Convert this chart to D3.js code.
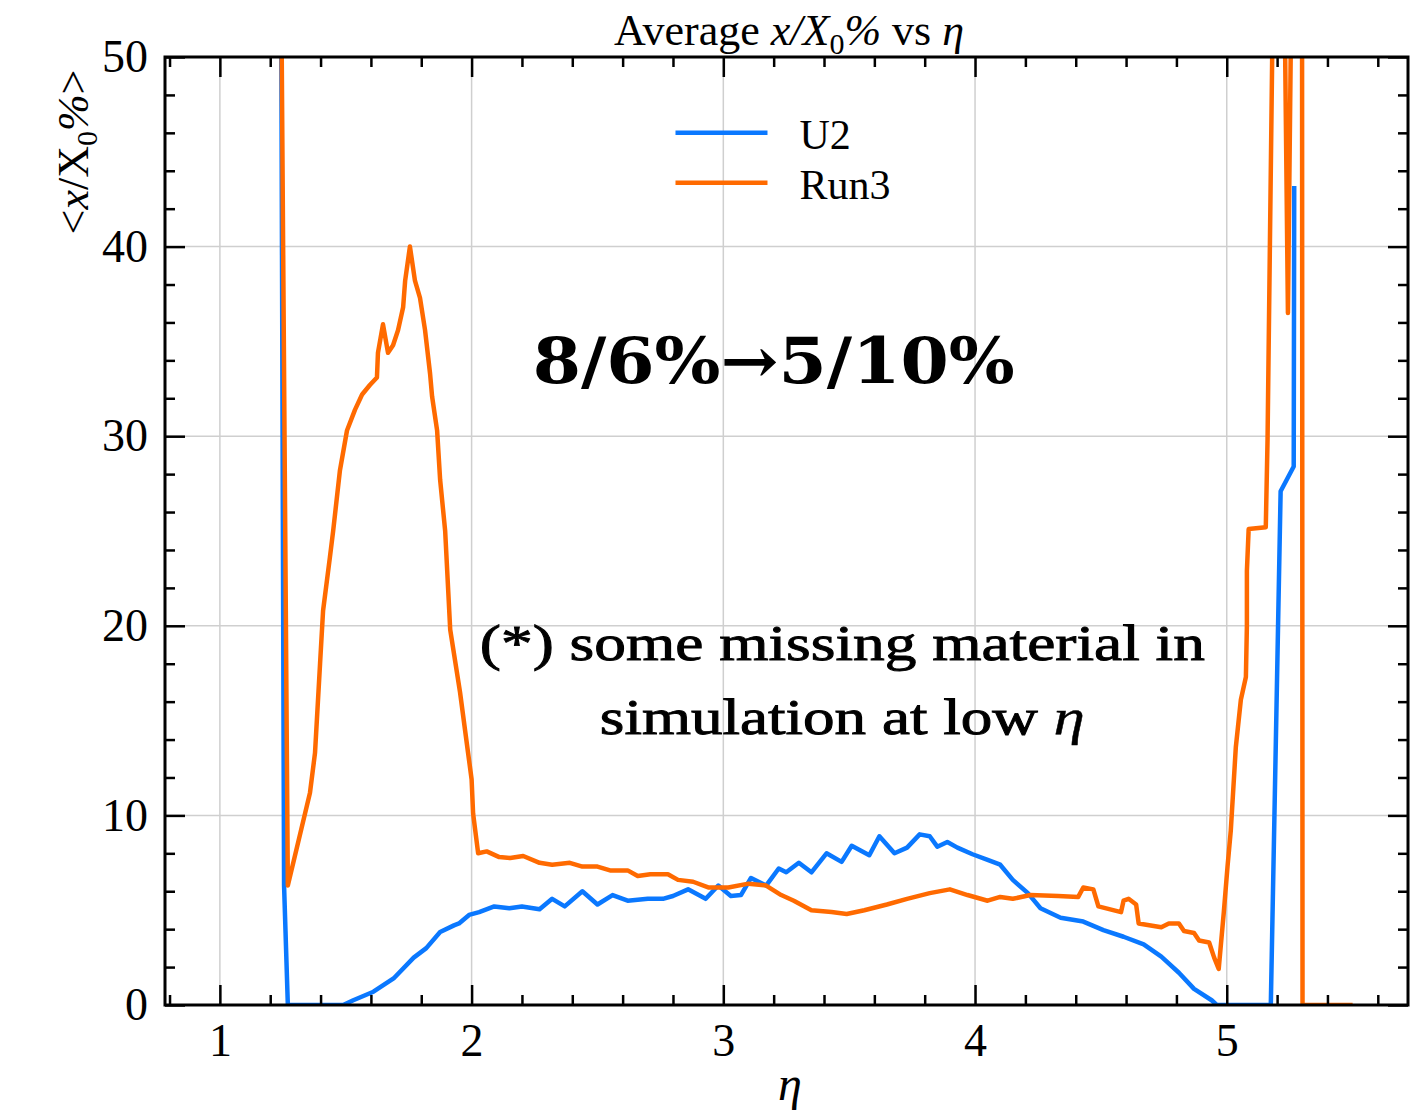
<!DOCTYPE html>
<html>
<head>
<meta charset="utf-8">
<script src="https://cdn.jsdelivr.net/npm/d3@7"></script>
<style>
  body { margin: 0; background: #fff; }
  text { font-family: "Liberation Serif", "Times New Roman", serif; }
</style>
</head>
<body>
<svg id="drawing_region"></svg>
<script>
// series names and tick values
const seriesNames = ['U2', 'Run3'];
const xTicks = [1, 2, 3, 4, 5];
const yTicks = [0, 10, 20, 30, 40, 50];

// U2 : [eta, <x/X0%>]
const u2Points = [
  [1.243, 55], [1.255, 6.3], [1.270, 0], [1.49, 0], [1.53, 0.25], [1.61, 0.7],
  [1.69, 1.4], [1.77, 2.5], [1.82, 3.0], [1.875, 3.85], [1.93, 4.2], [1.95, 4.3],
  [1.99, 4.75], [2.03, 4.9], [2.09, 5.2], [2.15, 5.1], [2.20, 5.2], [2.27, 5.05],
  [2.32, 5.6], [2.37, 5.2], [2.44, 6.0], [2.50, 5.3], [2.56, 5.8], [2.62, 5.5],
  [2.70, 5.6], [2.76, 5.6], [2.80, 5.75], [2.86, 6.1], [2.93, 5.6], [2.98, 6.3],
  [3.03, 5.75], [3.07, 5.8], [3.11, 6.7], [3.17, 6.3], [3.22, 7.2], [3.25, 7.0],
  [3.30, 7.5], [3.35, 7.0], [3.41, 8.0], [3.47, 7.55], [3.51, 8.4], [3.58, 7.9],
  [3.62, 8.9], [3.68, 8.0], [3.73, 8.3], [3.78, 9.0], [3.82, 8.9], [3.85, 8.35],
  [3.89, 8.6], [3.93, 8.3], [3.99, 7.95], [4.05, 7.65], [4.10, 7.4], [4.15, 6.6],
  [4.21, 5.9], [4.26, 5.1], [4.34, 4.6], [4.43, 4.4], [4.51, 3.95], [4.59, 3.6],
  [4.67, 3.2], [4.74, 2.55], [4.81, 1.7], [4.87, 0.85], [4.94, 0.25], [4.96, 0],
  [5.175, 0], [5.214, 27.1], [5.266, 28.4], [5.268, 43.2]
];

// Run3 : [eta, <x/X0%>]
const run3Points = [
  [1.243, 55], [1.270, 6.3], [1.358, 11.2], [1.378, 13.3], [1.398, 18.0], [1.41, 20.8],
  [1.437, 23.6], [1.45, 25.0], [1.477, 28.2], [1.505, 30.3], [1.537, 31.4], [1.565, 32.2],
  [1.596, 32.7], [1.624, 33.1], [1.628, 34.4], [1.648, 35.9], [1.668, 34.4], [1.688, 34.8],
  [1.708, 35.6], [1.728, 36.8], [1.736, 38.2], [1.755, 40.0], [1.775, 38.2], [1.795, 37.3],
  [1.815, 35.6], [1.835, 33.3], [1.843, 32.1], [1.863, 30.3], [1.875, 27.7], [1.895, 25.0],
  [1.915, 19.8], [1.954, 16.5], [1.986, 13.3], [2.0, 11.9], [2.006, 10.1], [2.026, 8.0],
  [2.06, 8.1], [2.11, 7.8], [2.153, 7.75], [2.205, 7.86], [2.27, 7.5], [2.32, 7.4],
  [2.39, 7.5], [2.44, 7.3], [2.50, 7.3], [2.55, 7.1], [2.62, 7.1], [2.66, 6.8],
  [2.71, 6.9], [2.78, 6.9], [2.82, 6.6], [2.88, 6.5], [2.94, 6.2], [3.02, 6.2],
  [3.10, 6.4], [3.17, 6.3], [3.23, 5.8], [3.28, 5.5], [3.35, 5.0], [3.43, 4.9],
  [3.49, 4.8], [3.56, 5.0], [3.65, 5.3], [3.73, 5.6], [3.82, 5.9], [3.90, 6.1],
  [3.97, 5.8], [4.05, 5.5], [4.10, 5.7], [4.15, 5.6], [4.22, 5.8], [4.33, 5.75],
  [4.41, 5.7], [4.43, 6.2], [4.47, 6.1], [4.49, 5.2], [4.58, 4.9], [4.59, 5.5],
  [4.61, 5.6], [4.64, 5.3], [4.65, 4.3], [4.74, 4.1], [4.77, 4.3], [4.81, 4.3],
  [4.83, 3.9], [4.87, 3.8], [4.89, 3.4], [4.93, 3.3], [4.95, 2.5], [4.968, 1.9],
  [4.988, 4.85], [5.003, 7.3], [5.016, 9.2], [5.036, 13.6], [5.056, 16.1], [5.076, 17.3],
  [5.080, 20.0], [5.080, 22.9], [5.087, 25.1], [5.155, 25.2], [5.162, 29.8], [5.185, 55],
  [5.228, 55], [5.243, 36.5], [5.258, 55], [5.299, 55], [5.301, 0], [5.50, 0]
];

const colors = ['#0a78ff', '#ff6a00'];

class MaterialChart {
    constructor(config) {
        this.config = config;
        this.init();
    }

    init() {
        let self = this;
        const c = self.config;

        self.svg = d3.select(c.parent)
            .attr('width', c.width)
            .attr('height', c.height);

        self.inner_width = c.width - c.margin.left - c.margin.right;
        self.inner_height = c.height - c.margin.top - c.margin.bottom;

        self.chart = self.svg.append('g')
            .attr('transform', `translate(${c.margin.left}, ${c.margin.top})`);

        self.xscale = d3.scaleLinear().domain([0.782, 5.72]).range([0, self.inner_width]);
        self.yscale = d3.scaleLinear().domain([0, 50]).range([self.inner_height, 0]);

        self.chart.append('clipPath').attr('id', 'plotclip')
            .append('rect')
            .attr('width', self.inner_width)
            .attr('height', self.inner_height);
    }

    render() {
        let self = this;
        const W = self.inner_width, H = self.inner_height;
        const xMinor = d3.range(0.8, 5.72, 0.2).filter(v => Math.abs(v - Math.round(v)) > 1e-6);
        const yMinor = d3.range(0, 50.01, 2).filter(v => v % 10 !== 0);

        // grid
        const grid = self.chart.append('g');
        grid.selectAll('.gx').data(xTicks).join('line')
            .attr('x1', d => self.xscale(d)).attr('x2', d => self.xscale(d))
            .attr('y1', 0).attr('y2', H)
            .attr('stroke', '#cfcfcf').attr('stroke-width', 1.5);
        grid.selectAll('.gy').data(yTicks.filter(d => d > 0 && d < 50)).join('line')
            .attr('y1', d => self.yscale(d)).attr('y2', d => self.yscale(d))
            .attr('x1', 0).attr('x2', W)
            .attr('stroke', '#cfcfcf').attr('stroke-width', 1.5);

        // curves
        const line = d3.line()
            .x(d => self.xscale(d[0]))
            .y(d => self.yscale(d[1]));

        const curves = self.chart.append('g').attr('clip-path', 'url(#plotclip)');
        [u2Points, run3Points].forEach((pts, i) => {
            curves.append('path')
                .attr('d', line(pts))
                .attr('fill', 'none')
                .attr('stroke', colors[i])
                .attr('stroke-width', 4.5)
                .attr('stroke-linejoin', 'round');
        });

        // axes with inward ticks
        const axisStyle = g => {
            g.select('.domain').remove();
            g.selectAll('line').attr('stroke', '#000').attr('stroke-width', 2.5);
            g.selectAll('text').style('font-family', '"Liberation Serif", serif')
                .style('font-size', '46px').attr('fill', '#000');
        };

        self.chart.append('g').attr('transform', `translate(0,${H})`)
            .call(d3.axisBottom(self.xscale).tickValues(xTicks).tickSize(-20).tickPadding(18).tickFormat(d3.format('d')))
            .call(axisStyle);
        self.chart.append('g').attr('transform', `translate(0,${H})`)
            .call(d3.axisBottom(self.xscale).tickValues(xMinor).tickSize(-10).tickFormat(''))
            .call(axisStyle);
        self.chart.append('g')
            .call(d3.axisTop(self.xscale).tickValues(xTicks).tickSize(-20).tickFormat(''))
            .call(axisStyle);
        self.chart.append('g')
            .call(d3.axisTop(self.xscale).tickValues(xMinor).tickSize(-10).tickFormat(''))
            .call(axisStyle);

        self.chart.append('g')
            .call(d3.axisLeft(self.yscale).tickValues(yTicks).tickSize(-20).tickPadding(17).tickFormat(d3.format('d')))
            .call(axisStyle);
        self.chart.append('g')
            .call(d3.axisLeft(self.yscale).tickValues(yMinor).tickSize(-10).tickFormat(''))
            .call(axisStyle);
        self.chart.append('g').attr('transform', `translate(${W},0)`)
            .call(d3.axisRight(self.yscale).tickValues(yTicks).tickSize(-20).tickFormat(''))
            .call(axisStyle);
        self.chart.append('g').attr('transform', `translate(${W},0)`)
            .call(d3.axisRight(self.yscale).tickValues(yMinor).tickSize(-10).tickFormat(''))
            .call(axisStyle);

        // frame
        self.chart.append('rect')
            .attr('width', W).attr('height', H)
            .attr('fill', 'none').attr('stroke', '#000').attr('stroke-width', 3);

        // legend
        const legend = self.chart.append('g').attr('transform', `translate(${self.xscale(2.81)}, ${self.yscale(46.0)})`);
        seriesNames.forEach((name, i) => {
            const row = legend.append('g').attr('transform', `translate(0, ${i * 50})`);
            row.append('line').attr('x1', 0).attr('x2', 92)
                .attr('stroke', colors[i]).attr('stroke-width', 4.5);
            row.append('text').attr('x', 124).attr('y', 16)
                .style('font-size', '42px').text(name);
        });

        // annotations
        self.chart.append('text')
            .attr('x', self.xscale(3.2)).attr('y', self.yscale(32.8))
            .attr('text-anchor', 'middle')
            .attr('textLength', 482).attr('lengthAdjust', 'spacingAndGlyphs')
            .style('font-family', '"DejaVu Serif", serif')
            .style('font-size', '64px').style('font-weight', 'bold')
            .text('8/6%→5/10%');

        const noteStyle = t => t
            .attr('text-anchor', 'middle')
            .attr('lengthAdjust', 'spacingAndGlyphs')
            .attr('stroke', '#000').attr('stroke-width', 0.9)
            .style('font-size', '50px');
        self.chart.append('text')
            .attr('x', self.xscale(3.473)).attr('y', self.yscale(18.2))
            .attr('textLength', 725)
            .call(noteStyle)
            .text('(*) some missing material in');
        const l2 = self.chart.append('text')
            .attr('x', self.xscale(3.473)).attr('y', self.yscale(14.3))
            .attr('textLength', 485)
            .call(noteStyle);
        l2.append('tspan').text('simulation at low ');
        l2.append('tspan').style('font-style', 'italic').attr('stroke-width', 0.4).text('η');

        // title
        const title = self.svg.append('text')
            .attr('x', 789).attr('y', 45)
            .attr('text-anchor', 'middle')
            .style('font-size', '44px');
        title.append('tspan').text('Average ');
        title.append('tspan').style('font-style', 'italic').text('x/X');
        title.append('tspan').attr('dy', 9).style('font-size', '30px').text('0');
        title.append('tspan').attr('dy', -9).style('font-style', 'italic').text('%');
        title.append('tspan').text(' vs ');
        title.append('tspan').style('font-style', 'italic').text('η');

        // x label
        self.svg.append('text')
            .attr('x', 790).attr('y', 1100)
            .attr('text-anchor', 'middle')
            .style('font-size', '48px').style('font-style', 'italic')
            .text('η');

        // y label
        const ylab = self.svg.append('text')
            .attr('transform', 'translate(88, 152) rotate(-90)')
            .attr('text-anchor', 'middle')
            .style('font-size', '44px');
        ylab.append('tspan').text('<');
        ylab.append('tspan').style('font-style', 'italic').text('x');
        ylab.append('tspan').text('/X');
        ylab.append('tspan').attr('dy', 9).style('font-size', '30px').text('0');
        ylab.append('tspan').attr('dy', -9).style('font-style', 'italic').text('%');
        ylab.append('tspan').text('>');
    }
}

const chart = new MaterialChart({
    parent: '#drawing_region',
    width: 1424,
    height: 1112,
    margin: {top: 57, right: 16, bottom: 107, left: 165}
});
chart.render();
</script>
</body>
</html>
